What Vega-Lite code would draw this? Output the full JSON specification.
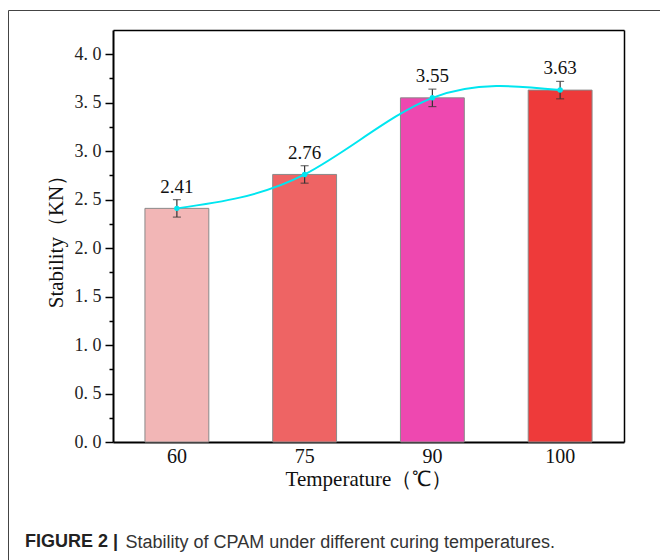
{
  "$schema": "https://vega.github.io/schema/vega-lite/v6.json",
  "width": 652,
  "height": 550,
  "autosize": "none",
  "padding": {"left": 8, "top": 10, "right": 0, "bottom": 0},
  "background": "white",
  "config": {"view": {"stroke": "#444", "strokeWidth": 1}, "font": "Liberation Serif"},
  "title": {"text": "FIGURE 2 |", "orient": "bottom", "anchor": "start", "frame": "group", "offset": -13, "dx": 17, "baseline": "alphabetic", "font": "Liberation Sans", "fontSize": 18, "fontWeight": "bold", "color": "#222"},
  "data": {"values": [
    {"T": "60", "v": 2.41, "lo": 2.32, "hi": 2.50},
    {"T": "75", "v": 2.76, "lo": 2.67, "hi": 2.85},
    {"T": "90", "v": 3.55, "lo": 3.46, "hi": 3.64},
    {"T": "100", "v": 3.63, "lo": 3.54, "hi": 3.72}
  ]},
  "layer": [
    {
      "mark": {"type": "bar", "stroke": "#8a8a8a", "strokeWidth": 1},
      "encoding": {
        "x": {"field": "T", "type": "ordinal", "sort": ["60", "75", "90", "100"],
          "scale": {"type": "band", "range": [105, 616], "paddingInner": 0.5, "paddingOuter": 0.25},
          "axis": {"orient": "bottom", "offset": -118, "domainColor": "#000", "domainWidth": 2, "ticks": false, "tickSize": 0,
            "labelFont": "Liberation Serif", "labelFontSize": 20, "labelColor": "#111", "labelPadding": 4, "labelAngle": 0,
            "title": "Temperature（℃）", "titleFont": "Liberation Serif", "titleFontSize": 21, "titleFontWeight": "normal", "titleColor": "#111", "titlePadding": 2}},
        "y": {"field": "v", "type": "quantitative",
          "scale": {"domain": [0, 4.25], "range": [432, 20], "nice": false, "zero": true},
          "axis": {"orient": "left", "offset": -105, "values": [0, 0.5, 1, 1.5, 2, 2.5, 3, 3.5, 4], "grid": false,
            "domainColor": "#000", "domainWidth": 2, "tickColor": "#000", "tickWidth": 1.5, "tickSize": 8,
            "labelExpr": "replace(format(datum.value, '.1f'), '.', '. ')",
            "labelFont": "Liberation Serif", "labelFontSize": 18, "labelColor": "#222", "labelPadding": 4,
            "title": "Stability（KN）", "titleFont": "Liberation Serif", "titleFontSize": 21, "titleFontWeight": "normal", "titleColor": "#111", "titlePadding": 8}},
        "color": {"field": "T", "type": "ordinal", "scale": {"domain": ["60", "75", "90", "100"], "range": ["#f2b6b6", "#ee6464", "#ee48b0", "#ee3a3a"]}, "legend": null}
      }
    },
    {
      "mark": {"type": "errorbar", "ticks": {"size": 8, "thickness": 1.2, "color": "#333"}, "rule": {"color": "#333", "strokeWidth": 1.2}},
      "encoding": {
        "x": {"field": "T", "type": "ordinal", "sort": ["60", "75", "90", "100"], "axis": null},
        "y": {"field": "lo", "type": "quantitative", "axis": null},
        "y2": {"field": "hi"}
      }
    },
    {
      "mark": {"type": "line", "interpolate": "natural", "color": "#00e6f0", "strokeWidth": 2},
      "encoding": {
        "x": {"field": "T", "type": "ordinal", "sort": ["60", "75", "90", "100"],
          "axis": {"orient": "top", "offset": -20, "labels": false, "ticks": false, "title": null, "domainColor": "#000", "domainWidth": 1.5}},
        "y": {"field": "v", "type": "quantitative",
          "axis": {"orient": "right", "offset": -36, "labels": false, "ticks": false, "title": null, "grid": false, "domainColor": "#000", "domainWidth": 1.5}}
      }
    },
    {
      "mark": {"type": "point", "filled": true, "size": 30, "color": "#00e6f0", "opacity": 1},
      "encoding": {
        "x": {"field": "T", "type": "ordinal", "sort": ["60", "75", "90", "100"],
          "axis": {"orient": "bottom", "offset": 0, "domain": false, "ticks": false, "labels": false,
            "title": "Stability of CPAM under different curing temperatures.", "titleX": 117, "titleY": -13, "titleAlign": "left", "titleAnchor": "start", "titleBaseline": "alphabetic",
            "titleFont": "Liberation Sans", "titleFontSize": 18, "titleFontWeight": "normal", "titleColor": "#333"}},
        "y": {"field": "v", "type": "quantitative",
          "axis": {"orient": "left", "offset": -105, "values": [0.25, 0.75, 1.25, 1.75, 2.25, 2.75, 3.25, 3.75], "labels": false, "domain": false, "title": null, "grid": false, "tickSize": 4, "tickWidth": 1.5, "tickColor": "#000"}}
      }
    },
    {
      "mark": {"type": "text", "baseline": "bottom", "dy": -3, "font": "Liberation Serif", "fontSize": 19, "color": "#111"},
      "encoding": {
        "x": {"field": "T", "type": "ordinal", "sort": ["60", "75", "90", "100"], "axis": null},
        "y": {"field": "hi", "type": "quantitative", "axis": null},
        "text": {"field": "v", "type": "quantitative", "format": ".2f"}
      }
    }
  ],
  "resolve": {"axis": {"x": "independent", "y": "independent"}}
}
